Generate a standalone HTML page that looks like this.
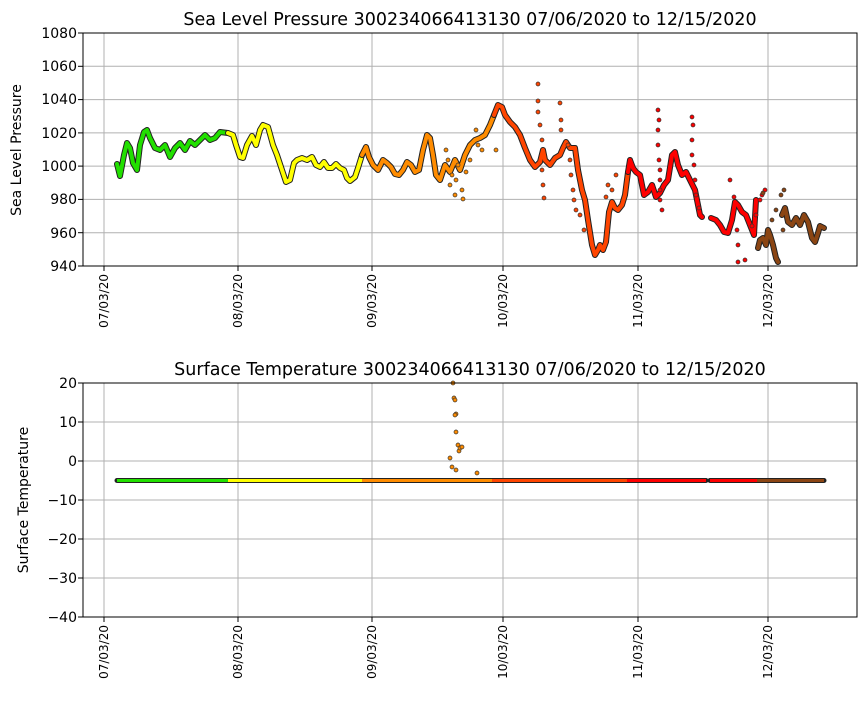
<!DOCTYPE html>
<html><head><meta charset="utf-8"><style>
body{margin:0;background:#fff}
svg text{font-family:"DejaVu Sans","Liberation Sans",sans-serif;fill:#000}
</style></head><body>
<svg id="s" width="867" height="700" xmlns="http://www.w3.org/2000/svg">
<g stroke="#b0b0b0" stroke-width="1">
<line x1="104" y1="33" x2="104" y2="266"/><line x1="238" y1="33" x2="238" y2="266"/><line x1="372" y1="33" x2="372" y2="266"/><line x1="503" y1="33" x2="503" y2="266"/><line x1="638" y1="33" x2="638" y2="266"/><line x1="768" y1="33" x2="768" y2="266"/>
<line x1="83" y1="66.3" x2="857" y2="66.3"/><line x1="83" y1="99.6" x2="857" y2="99.6"/><line x1="83" y1="132.9" x2="857" y2="132.9"/><line x1="83" y1="166.1" x2="857" y2="166.1"/><line x1="83" y1="199.4" x2="857" y2="199.4"/><line x1="83" y1="232.7" x2="857" y2="232.7"/>
<line x1="104" y1="383" x2="104" y2="617"/><line x1="238" y1="383" x2="238" y2="617"/><line x1="372" y1="383" x2="372" y2="617"/><line x1="503" y1="383" x2="503" y2="617"/><line x1="638" y1="383" x2="638" y2="617"/><line x1="768" y1="383" x2="768" y2="617"/>
<line x1="83" y1="422" x2="857" y2="422"/><line x1="83" y1="461" x2="857" y2="461"/><line x1="83" y1="500" x2="857" y2="500"/><line x1="83" y1="539" x2="857" y2="539"/><line x1="83" y1="578" x2="857" y2="578"/>
</g>
<g id="data"></g>
<rect x="83" y="33" width="774" height="233" fill="none" stroke="#000"/>
<rect x="83" y="383" width="774" height="234" fill="none" stroke="#000"/>
<g font-size="14" text-anchor="end">
<text x="77" y="38">1080</text><text x="77" y="71">1060</text><text x="77" y="104">1040</text><text x="77" y="138">1020</text><text x="77" y="171">1000</text><text x="77" y="204">980</text><text x="77" y="238">960</text><text x="77" y="271">940</text>
<text x="77" y="388">20</text><text x="77" y="427">10</text><text x="77" y="466">0</text><text x="77" y="505">−10</text><text x="77" y="544">−20</text><text x="77" y="583">−30</text><text x="77" y="622">−40</text>
</g>
<g stroke="#000"><line x1="78" y1="33" x2="83" y2="33"/><line x1="78" y1="66.3" x2="83" y2="66.3"/><line x1="78" y1="99.6" x2="83" y2="99.6"/><line x1="78" y1="132.9" x2="83" y2="132.9"/><line x1="78" y1="166.1" x2="83" y2="166.1"/><line x1="78" y1="199.4" x2="83" y2="199.4"/><line x1="78" y1="232.7" x2="83" y2="232.7"/><line x1="78" y1="266" x2="83" y2="266"/>
<line x1="78" y1="383" x2="83" y2="383"/><line x1="78" y1="422" x2="83" y2="422"/><line x1="78" y1="461" x2="83" y2="461"/><line x1="78" y1="500" x2="83" y2="500"/><line x1="78" y1="539" x2="83" y2="539"/><line x1="78" y1="578" x2="83" y2="578"/><line x1="78" y1="617" x2="83" y2="617"/></g>
<g font-size="12" id="xt"></g>
<text x="470" y="25" font-size="17.5" text-anchor="middle">Sea Level Pressure 300234066413130  07/06/2020 to 12/15/2020</text>
<text x="470" y="375" font-size="17.5" text-anchor="middle">Surface Temperature 300234066413130  07/06/2020 to 12/15/2020</text>
<text transform="translate(21,150) rotate(-90)" font-size="14" text-anchor="middle">Sea Level Pressure</text>
<text transform="translate(28,500) rotate(-90)" font-size="14" text-anchor="middle">Surface Temperature</text>
</svg>
<script>
var NS="http://www.w3.org/2000/svg",d=document.getElementById("data"),xt=document.getElementById("xt");
function el(t,a,p){var e=document.createElementNS(NS,t);for(var k in a)e.setAttribute(k,a[k]);(p||d).appendChild(e);return e;}
var ticks=[[104,"07/03/20"],[238,"08/03/20"],[372,"09/03/20"],[503,"10/03/20"],[638,"11/03/20"],[768,"12/03/20"]];
ticks.forEach(function(t){[266,617].forEach(function(y){
el("line",{x1:t[0],x2:t[0],y1:y,y2:y+5,stroke:"#000"},xt);
var tx=el("text",{transform:"translate("+(t[0]+4)+","+(y+8)+") rotate(-90)","text-anchor":"end"},xt);tx.textContent=t[1];});});
var segs=[
["#22e000",[[117,164],[120,176],[124,155],[127,143],[130,148],[133,163],[137,170],[140,145],[144,132],[147,130],[150,138],[155,148],[160,150],[165,145],[170,157],[175,148],[180,143],[185,150],[190,141],[195,145],[200,140],[205,135],[210,140],[215,138],[220,132],[228,133]]],
["#ffff00",[[228,133],[233,135],[236,145],[240,157],[243,158],[247,145],[252,136],[256,145],[260,130],[263,125],[268,127],[273,145],[277,155],[282,170],[286,182],[290,180],[294,163],[297,160],[302,158],[307,160],[312,157],[316,165],[320,167],[324,162],[328,168],[332,168],[336,164],[340,168],[344,170],[347,178],[350,181],[355,177],[358,168],[362,155]]],
["#ff8c00",[[362,155],[366,147],[369,157],[373,165],[378,170],[383,160],[387,163],[391,167],[395,174],[399,175],[403,170],[407,162],[411,165],[415,172],[419,170],[423,150],[427,135],[430,138],[433,155],[436,175],[440,180],[445,165],[450,172],[455,160],[460,170],[465,155],[470,145],[475,140],[480,138],[485,135],[490,125],[494,115]]],
["#ff4500",[[494,115],[498,105],[502,107],[505,115],[510,122],[515,127],[520,135],[525,148],[530,160],[535,167],[540,162],[543,150],[545,160],[550,165],[555,158],[560,155],[563,148],[566,142],[570,148],[575,148],[578,170],[580,180],[582,190],[585,200],[588,220],[592,245],[595,255],[598,250],[600,245],[603,250],[606,242],[609,212],[612,202],[615,208],[618,210],[622,205],[625,195],[628,172]]],
["#ff0000",[[628,172],[630,160],[633,168],[636,172],[640,175],[644,195],[648,192],[652,185],[656,197],[660,193],[664,185],[668,180],[672,155],[675,152],[678,165],[682,175],[686,172],[690,180],[695,190],[700,215],[702,217]]],
["#ff0000",[[711,218],[716,220],[720,225],[724,232],[728,233],[732,220],[735,202],[738,205],[742,212],[746,215],[750,225],[754,235],[756,200]]],
["#8b4513",[[758,248],[760,240],[763,238],[766,245],[768,230],[770,235],[773,245],[776,258],[778,262]]],
["#8b4513",[[782,215],[785,208],[788,222],[792,225],[796,218],[800,225],[804,215],[808,222],[812,238],[815,242],[818,233],[820,226],[824,228]]]];
segs.forEach(function(s){var p=s[1].map(function(a){return a.join(",")}).join(" ");
el("polyline",{points:p,fill:"none",stroke:"#222", "stroke-width":6,"stroke-linejoin":"round","stroke-linecap":"round"});
el("polyline",{points:p,fill:"none",stroke:s[0],"stroke-width":4,"stroke-linejoin":"round","stroke-linecap":"round"});});
function dots(c,arr){arr.forEach(function(a){el("circle",{cx:a[0],cy:a[1],r:2,fill:c,stroke:"#333","stroke-width":0.7});});}
dots("#ff8c00",[[446,150],[448,160],[450,185],[452,175],[455,195],[456,180],[458,165],[462,190],[463,199],[466,172],[470,160],[476,130],[478,145],[482,150],[496,150]]);
dots("#ff4500",[[538,84],[538,101],[538,112],[540,125],[542,140],[542,170],[543,185],[544,198],[560,103],[561,120],[561,130],[568,145],[570,160],[571,175],[573,190],[574,200],[576,210],[580,215],[584,230],[606,197],[608,185],[612,190],[616,175]]);
dots("#ff0000",[[658,110],[659,120],[658,130],[658,145],[659,160],[660,170],[660,180],[660,190],[660,200],[662,210],[692,117],[693,125],[692,140],[692,155],[694,165],[695,180],[696,195],[699,208],[730,180],[734,197],[737,230],[738,245],[738,262],[745,260],[752,226],[756,215],[760,200],[762,195],[765,190]]);
dots("#8b4513",[[763,193],[772,220],[776,210],[781,195],[784,190],[783,230]]);
dots("#ff8c00",[[453,383],[454,398],[455,400],[456,414],[455,415],[456,432],[458,445],[459,451],[460,448],[462,447],[450,458],[452,467],[456,470],[477,473]]);
var by=480.5;
var bs=[["#22e000",117,228],["#ffff00",228,362],["#ff8c00",362,492],["#ff4500",492,627],["#ff0000",627,706],["#ff0000",710,757],["#8b4513",757,824]];
bs.forEach(function(s){el("line",{x1:s[1],x2:s[2],y1:by,y2:by,stroke:"#222","stroke-width":5,"stroke-linecap":"round"});});
bs.forEach(function(s){el("line",{x1:s[1],x2:s[2],y1:by,y2:by,stroke:s[0],"stroke-width":3});});
</script>
</body></html>
